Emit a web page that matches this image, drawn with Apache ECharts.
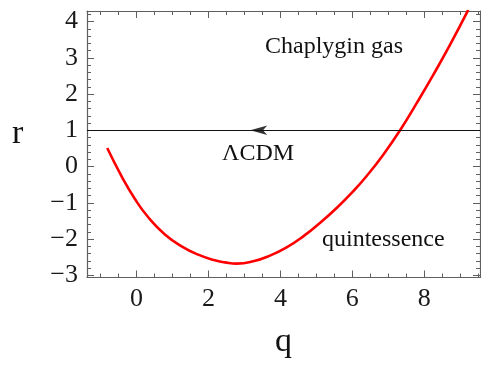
<!DOCTYPE html>
<html>
<head>
<meta charset="utf-8">
<script src="https://cdn.jsdelivr.net/npm/echarts@6/dist/echarts.min.js"></script>
<style>html,body{margin:0;padding:0;background:#fff;}#c{width:481px;height:370px;}</style>
</head>
<body>
<div id="c"></div>
<script>
// Curve r(q)
var qValues = [-0.818, -0.417, -0.047, 0.323, 0.787, 1.252, 1.713, 2.178, 2.456, 2.782, 3.243, 3.708, 4.172, 4.634, 5.099, 5.563, 6.025, 6.398, 6.860, 7.324, 7.789, 8.250, 8.715, 9.224];
var rValues = [0.510, -0.270, -0.895, -1.398, -1.873, -2.201, -2.430, -2.587, -2.642, -2.678, -2.614, -2.457, -2.229, -1.926, -1.556, -1.143, -0.681, -0.260, 0.327, 0.995, 1.749, 2.529, 3.355, 4.320];
// LCDM line and arrow
var lcdmR = 1;
var arrowPoint = [3.16, 1];
// ticks
var xMajor = [0, 2, 4, 6, 8];
var xMinor = [-1, -0.5, 0.5, 1, 1.5, 2.5, 3, 3.5, 4.5, 5, 5.5, 6.5, 7, 7.5, 8.5, 9, 9.5];
var yMajor = [-3, -2, -1, 0, 1, 2, 3, 4];
var yMinor = [-2.8, -2.6, -2.4, -2.2, -1.8, -1.6, -1.4, -1.2, -0.8, -0.6, -0.4, -0.2, 0.2, 0.4, 0.6, 0.8, 1.2, 1.4, 1.6, 1.8, 2.2, 2.4, 2.6, 2.8, 3.2, 3.4, 3.6, 3.8, 4.2];
var xRange = [-1.38, 9.55];
var yRange = [-3.06, 4.29];
var labels = { chaplygin: 'Chaplygin gas', lcdm: '\u039BCDM', quint: 'quintessence', xName: 'q', yName: 'r' };

var curve = qValues.map(function (q, i) { return [q, rValues[i]]; });
var axisColor = '#5f5f5f';
var font = '"Liberation Serif", "DejaVu Serif", serif';

function xAxisDef(pos, ticks, len, showLabel, showLine) {
  return {
    type: 'value', position: pos, min: xRange[0], max: xRange[1],
    splitLine: { show: false },
    axisLine: { show: showLine, onZero: false, lineStyle: { color: axisColor, width: 1.2 } },
    axisTick: { show: true, inside: true, length: len, customValues: ticks, lineStyle: { color: axisColor, width: 1 } },
    axisLabel: showLabel ? { show: true, customValues: ticks, color: '#1a1a1a', fontFamily: font, fontSize: 26, margin: 9 } : { show: false }
  };
}
function yAxisDef(pos, ticks, len, showLabel, showLine) {
  return {
    type: 'value', position: pos, min: yRange[0], max: yRange[1],
    splitLine: { show: false },
    axisLine: { show: showLine, onZero: false, lineStyle: { color: axisColor, width: 1.2 } },
    axisTick: { show: true, inside: true, length: len, customValues: ticks, lineStyle: { color: axisColor, width: 1 } },
    axisLabel: showLabel ? { show: true, customValues: ticks, color: '#1a1a1a', fontFamily: font, fontSize: 26, margin: 9,
      formatter: function (v) { return String(v).replace('-', '\u2212'); } } : { show: false }
  };
}

var chart = echarts.init(document.getElementById('c'), null, { renderer: 'canvas' });
chart.setOption({
  animation: false,
  backgroundColor: '#fff',
  grid: { left: 87, right: 1, top: 11, bottom: 92.5, containLabel: false },
  xAxis: [
    xAxisDef('bottom', xMajor, 7, true, true),
    xAxisDef('bottom', xMinor, 4, false, false),
    xAxisDef('top', xMajor, 7, false, true),
    xAxisDef('top', xMinor, 4, false, false)
  ],
  yAxis: [
    yAxisDef('left', yMajor, 7, true, true),
    yAxisDef('left', yMinor, 4, false, false),
    yAxisDef('right', yMajor, 7, false, true),
    yAxisDef('right', yMinor, 4, false, false)
  ],
  series: [
    {
      type: 'line', xAxisIndex: 0, yAxisIndex: 0, data: curve, smooth: 0.5, symbol: 'none', clip: true,
      lineStyle: { color: '#ff0000', width: 2.6 },
      markLine: {
        silent: true, symbol: ['none', 'none'], label: { show: false },
        lineStyle: { color: '#111', width: 1, type: 'solid' },
        data: [{ yAxis: lcdmR }]
      },
      z: 3
    },
    {
      type: 'scatter', xAxisIndex: 0, yAxisIndex: 0, data: [arrowPoint],
      symbol: 'arrow', symbolSize: [7, 17], symbolRotate: 90,
      itemStyle: { color: '#000' }, z: 4
    }
  ],
  graphic: [
    { type: 'text', left: 265, top: 35, style: { text: labels.chaplygin, font: '24px ' + font, fill: '#111' } },
    { type: 'text', left: 222, top: 142, style: { text: labels.lcdm, font: '24px ' + font, fill: '#111' } },
    { type: 'text', left: 322, top: 228, style: { text: labels.quint, font: '24px ' + font, fill: '#111' } },
    { type: 'text', left: 275, top: 325, style: { text: labels.xName, font: '34px ' + font, fill: '#111' } },
    { type: 'text', left: 12, top: 117, style: { text: labels.yName, font: '34px ' + font, fill: '#111' } }
  ]
});
</script>
</body>
</html>
